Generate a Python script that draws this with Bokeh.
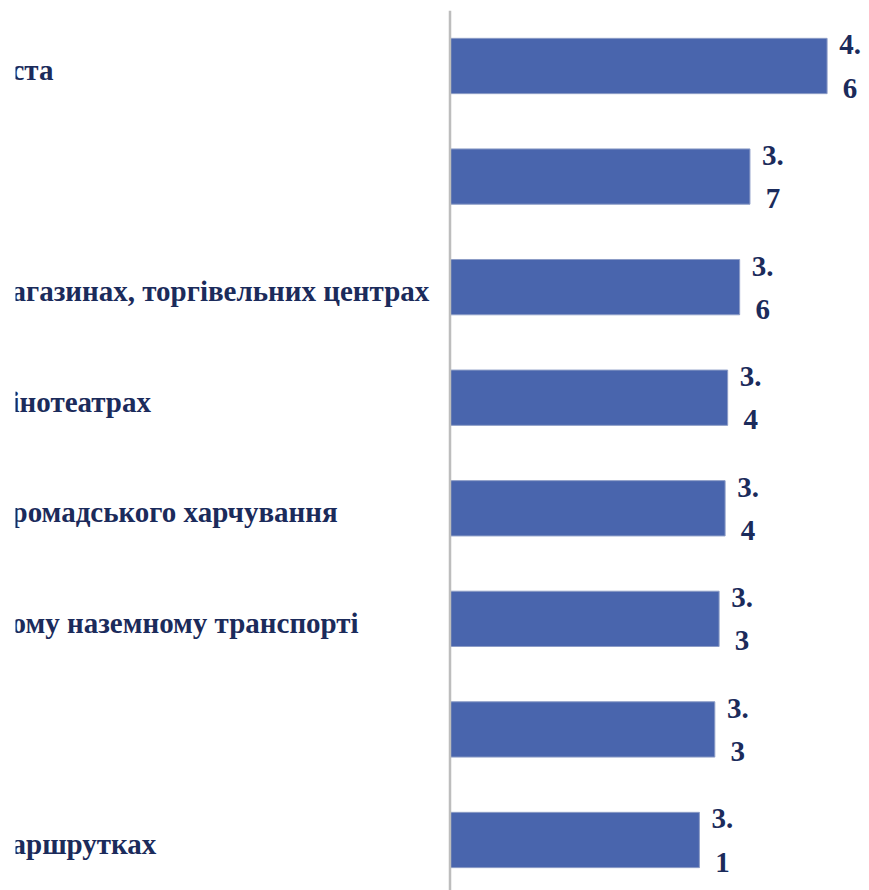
from bokeh.plotting import figure
from bokeh.models import ColumnDataSource, Range1d
from bokeh.embed import file_html
from bokeh.resources import INLINE

# ---- data ----
categories = [
    "ста",
    "",
    "агазинах, торгівельних центрах",
    "інотеатрах",
    "ромадського харчування",
    "ому наземному транспорті",
    "",
    "аршрутках",
]
values = [4.60, 3.70, 3.58, 3.44, 3.41, 3.34, 3.29, 3.11]
axis_min = 0.2

# ---- layout constants ----
W, H = 869, 890
BORDER_L = 15
frame_w = W - BORDER_L
axis_px = 449.5 - BORDER_L          # axis position inside frame (px)
px_per_unit = 85.7
x_start = axis_min - axis_px / px_per_unit
x_end = axis_min + (frame_w - axis_px) / px_per_unit

pitch = 110.57
first_center = 65.5
y_top = -first_center / pitch
y_bottom = (H - first_center) / pitch

pos = list(range(len(values)))
labels = ["%.1f" % v for v in values]
wrapped = [s.replace(".", ".\n") for s in labels]

src = ColumnDataSource(dict(
    y=pos, v=values, left=[axis_min] * len(values), cat=categories,
    lab=wrapped, lx=[x_start] * len(values),
    font=["Liberation Serif"] * len(values),
))

p = figure(width=W, height=H, output_backend="svg", toolbar_location=None,
           x_range=Range1d(x_start, x_end), y_range=Range1d(y_bottom, y_top),
           min_border_left=BORDER_L, min_border_right=0, min_border_top=0,
           min_border_bottom=0, outline_line_color=None)
p.xaxis.visible = False
p.yaxis.visible = False
p.grid.visible = False
p.background_fill_color = "white"
p.border_fill_color = "white"

p.hbar(y="y", left="left", right="v", height=0.5, source=src,
       fill_color="#4965ad", line_color="#8c9cc6", line_width=1)

# vertical axis line
p.segment(x0=axis_min, y0=-0.5, x1=axis_min, y1=y_bottom,
          line_color="#bdbdbd", line_width=2.5)

# value labels (wrapped)
p.text(x="v", y="y", text="lab", source=src, x_offset=23,
       text_align="center", text_baseline="middle",
       text_font="font", text_font_style="bold",
       text_font_size="29px", text_color="#1b2b5b", text_line_height=1.35)

# category labels (clipped at the left edge)
p.text(x="lx", y="y", text="cat", source=src, x_offset=-4, y_offset=4,
       text_align="left", text_baseline="middle",
       text_font="font", text_font_style="bold",
       text_font_size="29px", text_color="#1b2b5b")

open("out.html", "w").write(file_html(p, INLINE))
